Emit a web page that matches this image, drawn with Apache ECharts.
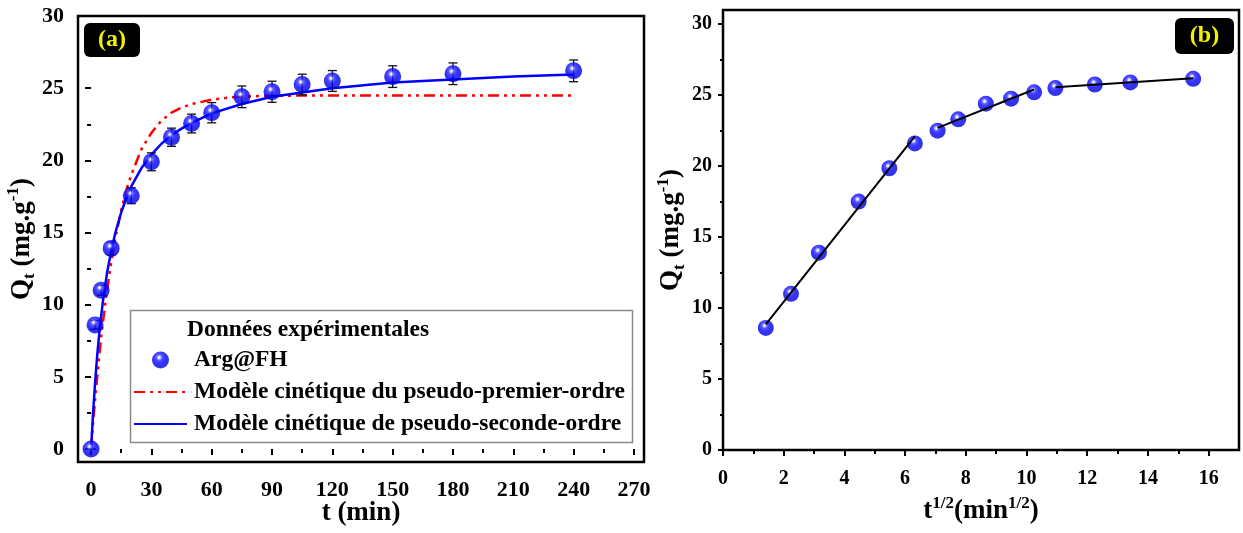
<!DOCTYPE html>
<html>
<head>
<meta charset="utf-8">
<script src="https://cdn.jsdelivr.net/npm/echarts@6/dist/echarts.min.js"></script>
<style>
html,body{margin:0;padding:0;background:#fff;}
#c{width:1243px;height:533px;}
</style>
</head>
<body>
<div id="c"></div>
<script>
// ---------- Panel (a) data ----------
const timeMin = [0, 2, 5, 10, 20, 30, 40, 50, 60, 75, 90, 105, 120, 150, 180, 240];
const qtExp   = [0, 8.6, 11.0, 13.9, 17.55, 19.9, 21.6, 22.55, 23.3, 24.4, 24.75, 25.25, 25.5, 25.8, 26.0, 26.2];
const qtErr   = [0, 0.3, 0.35, 0.45, 0.55, 0.62, 0.63, 0.65, 0.7, 0.75, 0.73, 0.72, 0.72, 0.75, 0.75, 0.75];

// pseudo-first-order model curve
const pfoT = [0, 1, 2, 3, 4, 5, 6, 8, 10, 12, 15, 18, 20, 25, 30, 35, 40, 45, 50, 60, 70, 80, 90, 105, 120, 180, 240];
const pfoQ = [0, 1.8, 3.4, 4.9, 6.35, 7.7, 8.9, 11.05, 12.9, 14.55, 16.55, 18.15, 19.0, 20.75, 21.9, 22.75, 23.3, 23.65, 23.9, 24.2, 24.37, 24.44, 24.47, 24.49, 24.5, 24.5, 24.5];

// pseudo-second-order model curve
const psoT = [0, 1, 2, 3, 4, 5, 6, 8, 10, 12, 15, 18, 20, 25, 30, 35, 40, 45, 50, 60, 75, 90, 105, 120, 150, 180, 210, 240];
const psoQ = [0, 2.5, 4.6, 6.4, 7.9, 9.2, 10.35, 12.25, 13.7, 14.95, 16.4, 17.55, 18.2, 19.45, 20.4, 21.15, 21.75, 22.2, 22.6, 23.25, 23.9, 24.4, 24.7, 25.0, 25.4, 25.6, 25.8, 25.95];

// ---------- Panel (b) data ----------
const sqrtT = [1.41, 2.24, 3.16, 4.47, 5.48, 6.32, 7.07, 7.75, 8.66, 9.49, 10.25, 10.95, 12.25, 13.42, 15.49];
const qtB   = [8.6, 11.0, 13.9, 17.5, 19.85, 21.6, 22.5, 23.3, 24.4, 24.75, 25.2, 25.5, 25.75, 25.9, 26.15];
const fit1 = [[1.41, 8.85], [6.32, 22.1]];
const fit2 = [[7.07, 22.7], [10.25, 25.4]];
const fit3 = [[10.95, 25.55], [15.49, 26.2]];

// ---------- ticks ----------
const xTicksA = [0, 30, 60, 90, 120, 150, 180, 210, 240, 270];
const xMinorA = [15, 45, 75, 105, 135, 165, 195, 225, 255];
const yTicks  = [0, 5, 10, 15, 20, 25, 30];
const yMinor  = [2.5, 7.5, 12.5, 17.5, 22.5, 27.5];
const xTicksB = [0, 2, 4, 6, 8, 10, 12, 14, 16];
const xMinorB = [1, 3, 5, 7, 9, 11, 13, 15];

const FONT = 'Liberation Serif';
const zip = (a, b) => a.map((v, i) => [v, b[i]]);

const sphere = new echarts.graphic.RadialGradient(0.42, 0.35, 0.58, [
  {offset: 0, color: '#ffffff'},
  {offset: 0.1, color: '#dcdcff'},
  {offset: 0.3, color: '#3030ff'},
  {offset: 0.6, color: '#0000ff'},
  {offset: 1, color: '#0000dc'}
]);

function minorAxis(o) {
  return Object.assign({
    type: 'value',
    axisLine: {show: false},
    splitLine: {show: false},
    axisLabel: {show: false}
  }, o);
}
function tick(len, vals) {
  return {show: true, inside: false, length: len, lineStyle: {color: '#000', width: 2}, customValues: vals};
}
function lab(size, margin, vals) {
  return {color: '#000', fontFamily: FONT, fontWeight: 'bold', fontSize: size, margin: margin, customValues: vals};
}

const qRich = {
  n: {fontFamily: FONT, fontWeight: 'bold', fontSize: 27, color: '#000', lineHeight: 33},
  sub: {fontFamily: FONT, fontWeight: 'bold', fontSize: 17, color: '#000', verticalAlign: 'bottom', lineHeight: 15},
  sup: {fontFamily: FONT, fontWeight: 'bold', fontSize: 17, color: '#000', verticalAlign: 'top', lineHeight: 15}
};
const nameStyle = {color: '#000', fontFamily: FONT, fontWeight: 'bold', fontSize: 27};

const option = {
  animation: false,
  backgroundColor: '#fff',
  grid: [
    {left: 78, top: 16, width: 566, height: 446, show: true, borderColor: '#000', borderWidth: 2.5, backgroundColor: 'transparent', containLabel: false, outerBoundsMode: 'none'},
    {left: 723, top: 10, width: 516, height: 440, show: true, borderColor: '#000', borderWidth: 2.5, backgroundColor: 'transparent', containLabel: false, outerBoundsMode: 'none'}
  ],
  xAxis: [
    {type: 'value', gridIndex: 0, min: -6.5, max: 275, position: 'bottom',
      axisLine: {show: false}, splitLine: {show: false},
      axisTick: tick(6, xTicksA), axisLabel: lab(22, 17, xTicksA),
      name: 't (min)', nameLocation: 'middle', nameGap: 38, nameMoveOverlap: false, nameTextStyle: nameStyle},
    minorAxis({gridIndex: 0, min: -6.5, max: 275, position: 'bottom', axisTick: tick(4, xMinorA)}),
    {type: 'value', gridIndex: 1, min: 0, max: 17, position: 'bottom',
      axisLine: {show: false}, splitLine: {show: false},
      axisTick: tick(6, xTicksB), axisLabel: lab(20, 19, xTicksB),
      name: '{n|t}{sup|1/2}{n|(min}{sup|1/2}{n|)}', nameLocation: 'middle', nameGap: 45,
      nameTextStyle: {rich: qRich}},
    minorAxis({gridIndex: 1, min: 0, max: 17, position: 'bottom', axisTick: tick(4, xMinorB)})
  ],
  yAxis: [
    {type: 'value', gridIndex: 0, min: -0.9, max: 30, position: 'left',
      axisLine: {show: false}, splitLine: {show: false},
      axisTick: tick(6, yTicks), axisLabel: lab(22, 14, yTicks),
      name: '{n|Q}{sub|t}{n| (mg.g}{sup|-1}{n|)}', nameLocation: 'middle', nameGap: 37,
      nameTextStyle: {rich: qRich}},
    minorAxis({gridIndex: 0, min: -0.9, max: 30, position: 'left', axisTick: tick(4, yMinor)}),
    {type: 'value', gridIndex: 1, min: 0, max: 31, position: 'left',
      axisLine: {show: false}, splitLine: {show: false},
      axisTick: tick(5, yTicks), axisLabel: lab(20, 11, yTicks),
      name: '{n|Q}{sub|t}{n| (mg.g}{sup|-1}{n|)}', nameLocation: 'middle', nameGap: 35,
      nameTextStyle: {rich: qRich}},
    minorAxis({gridIndex: 1, min: 0, max: 31, position: 'left', axisTick: tick(3, yMinor)})
  ],
  legend: {
    show: true,
    orient: 'vertical',
    left: 133, top: 348,
    itemWidth: 53, itemHeight: 17, itemGap: 8,
    padding: 0,
    textStyle: {color: '#000', fontFamily: FONT, fontWeight: 'bold', fontSize: 23.5, padding: [0, 0, 0, 2]},
    data: [
      {name: 'Arg@FH', icon: 'circle'},
      {name: 'Modèle cinétique du pseudo-premier-ordre', itemStyle: {opacity: 0}},
      {name: 'Modèle cinétique de pseudo-seconde-ordre', itemStyle: {opacity: 0}}
    ]
  },
  graphic: [
    {type: 'rect', shape: {x: 130.5, y: 310.5, width: 502, height: 132}, style: {fill: 'none', stroke: '#8a8a8a', lineWidth: 1.5}, z: 50},
    {type: 'text', x: 187, y: 330, style: {text: 'Données expérimentales', fill: '#000', font: 'bold 23.5px "Liberation Serif"', verticalAlign: 'middle'}, z: 50},
    {type: 'rect', shape: {x: 84, y: 23, width: 56, height: 34, r: 6}, style: {fill: '#000'}, z: 50},
    {type: 'text', x: 112, y: 40, style: {text: '(a)', fill: '#f2f200', font: 'bold 24px "Liberation Serif"', align: 'center', verticalAlign: 'middle'}, z: 51},
    {type: 'rect', shape: {x: 1175, y: 18, width: 59, height: 36, r: 6}, style: {fill: '#000'}, z: 50},
    {type: 'text', x: 1204.5, y: 36, style: {text: '(b)', fill: '#f2f200', font: 'bold 24px "Liberation Serif"', align: 'center', verticalAlign: 'middle'}, z: 51}
  ],
  series: [
    {
      name: 'Modèle cinétique du pseudo-premier-ordre',
      type: 'line', xAxisIndex: 0, yAxisIndex: 0,
      data: zip(pfoT, pfoQ), smooth: false, symbol: 'none',
      lineStyle: {color: '#ff0000', width: 2.5, type: [11, 5, 3, 5, 3, 5]},
      itemStyle: {color: '#ff0000'}, z: 3
    },
    {
      name: 'Modèle cinétique de pseudo-seconde-ordre',
      type: 'line', xAxisIndex: 0, yAxisIndex: 0,
      data: zip(psoT, psoQ), smooth: false, symbol: 'none',
      lineStyle: {color: '#0000ff', width: 2.5},
      itemStyle: {color: '#0000ff'}, z: 4
    },
    {
      name: 'errbars',
      type: 'custom', xAxisIndex: 0, yAxisIndex: 0,
      data: timeMin.map((t, i) => [t, qtExp[i], qtErr[i]]),
      renderItem: function (params, api) {
        const x = api.value(0), y = api.value(1), e = api.value(2);
        const top = api.coord([x, y + e]);
        const bot = api.coord([x, y - e]);
        const c = 4.5;
        const st = {stroke: '#111', lineWidth: 1.3};
        return {type: 'group', children: [
          {type: 'line', shape: {x1: top[0], y1: top[1], x2: bot[0], y2: bot[1]}, style: st},
          {type: 'line', shape: {x1: top[0] - c, y1: top[1], x2: top[0] + c, y2: top[1]}, style: st},
          {type: 'line', shape: {x1: bot[0] - c, y1: bot[1], x2: bot[0] + c, y2: bot[1]}, style: st}
        ]};
      },
      z: 5, silent: true
    },
    {
      name: 'Arg@FH',
      type: 'scatter', xAxisIndex: 0, yAxisIndex: 0,
      data: zip(timeMin, qtExp), symbol: 'circle', symbolSize: 17,
      itemStyle: {color: sphere}, z: 6
    },
    {
      name: 'fit1', type: 'line', xAxisIndex: 2, yAxisIndex: 2, data: fit1, symbol: 'none',
      lineStyle: {color: '#000', width: 2}, z: 7
    },
    {
      name: 'fit2', type: 'line', xAxisIndex: 2, yAxisIndex: 2, data: fit2, symbol: 'none',
      lineStyle: {color: '#000', width: 2}, z: 7
    },
    {
      name: 'fit3', type: 'line', xAxisIndex: 2, yAxisIndex: 2, data: fit3, symbol: 'none',
      lineStyle: {color: '#000', width: 2}, z: 7
    },
    {
      name: 'ArgB',
      type: 'scatter', xAxisIndex: 2, yAxisIndex: 2,
      data: zip(sqrtT, qtB), symbol: 'circle', symbolSize: 16,
      itemStyle: {color: sphere}, z: 6
    }
  ]
};

const chart = echarts.init(document.getElementById('c'), null, {renderer: 'canvas'});
chart.setOption(option);
</script>
</body>
</html>
